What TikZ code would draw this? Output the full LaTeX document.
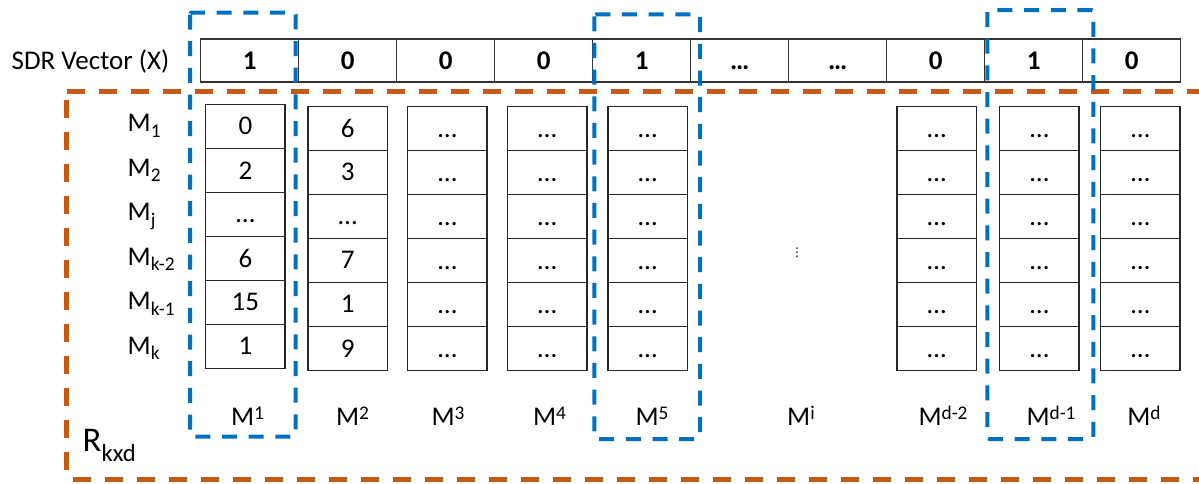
\documentclass[tikz,border=0pt]{standalone}
\usepackage{fontspec}
\setmainfont{Carlito}
\newfontfamily\symfont{DejaVu Sans}
\definecolor{rorange}{RGB}{197,90,17}
\definecolor{rblue}{RGB}{0,112,192}
\newcommand\sbsc[1]{\raisebox{-4.2pt}{\fontsize{14.5}{14.5}\selectfont #1}}
\newcommand\spsc[1]{\raisebox{5pt}{\fontsize{14.5}{14.5}\selectfont #1}}
\newcommand\el{\vphantom{0}…}
\begin{document}
\begin{tikzpicture}[x=0.75pt,y=-0.75pt,
  every node/.style={font=\fontsize{20.25}{24}\selectfont, text=black},
  sdrcell/.style={draw=black!80, line width=1.1pt, minimum width=73.5pt, minimum height=32.25pt, inner sep=0pt, font=\fontsize{20.25}{24}\selectfont\bfseries},
  mcell/.style={draw=black!85, line width=1.1pt, minimum width=59.5pt, minimum height=33pt, inner sep=0pt},
  orangeline/.style={draw=rorange, line width=3.5pt, dash pattern=on 13.7pt off 10.3pt},
  bluebox/.style={draw=rblue, line width=3pt, dash pattern=on 11.25pt off 8.75pt, rounded corners=1.5pt}]
\useasboundingbox (0,0) rectangle (1199,483);
% orange region R
\draw[orangeline] (66.7,91.7) -- (1215,91.7);
\draw[orangeline] (66.7,100) -- (66.7,472);
\draw[orangeline] (73,479.7) -- (1215,479.7);
% SDR vector
\node[anchor=base west] (lsdr) at (7,69.3) {SDR Vector (X)};
\foreach \v [count=\i] in {1,0,0,0,1,\el,\el,0,1,0}
  \node[sdrcell, anchor=west] (s\i) at ({200+98*(\i-1)},60.5) {\v};
% matrix columns
\foreach \c/\x/\t/\vals in {1/205/103.5/{0,2,\el,6,15,1}, 2/307.3/105.5/{6,3,\el,7,1,9},
    3/407/106/{\el,\el,\el,\el,\el,\el}, 4/506.7/106/{\el,\el,\el,\el,\el,\el},
    5/607.3/106/{\el,\el,\el,\el,\el,\el}, 6/896.3/106/{\el,\el,\el,\el,\el,\el},
    7/999/106/{\el,\el,\el,\el,\el,\el}, 8/1100/106/{\el,\el,\el,\el,\el,\el}} {
  \foreach \v [count=\r] in \vals
    \node[mcell, anchor=north west] (m\c-\r) at (\x,{\t+44*(\r-1)}) {\v};
}
% row labels
\foreach \s [count=\i] in {1,2,j,k-2,k-1,k}
  \node[anchor=base west] (row\i) at (123,{131.5+44.5*(\i-1)}) {M\sbsc{\s}};
% column labels
\foreach \s/\x [count=\i] in {1/247.5,2/352.5,3/448,4/549.5,5/652,i/801,d-2/943,d-1/1051,d/1144}
  \node[anchor=base] (col\i) at (\x,425.7) {M\spsc{\s}};
% vertical dots
\node[font=\symfont\fontsize{9}{9}\selectfont] (vdots) at (797,253) {⋮};
% R label
\node[anchor=base west, font=\fontsize{26}{28}\selectfont] (rk) at (78,451.7) {R\raisebox{-7pt}{\fontsize{18.5}{18.5}\selectfont kxd}};
% blue selections
\draw[bluebox] (190,12.5) rectangle (295.7,436.7);
\draw[bluebox] (594.3,14.3) rectangle (700,439);
\draw[bluebox] (987.3,10) rectangle (1093.3,439);
\end{tikzpicture}
\end{document}
